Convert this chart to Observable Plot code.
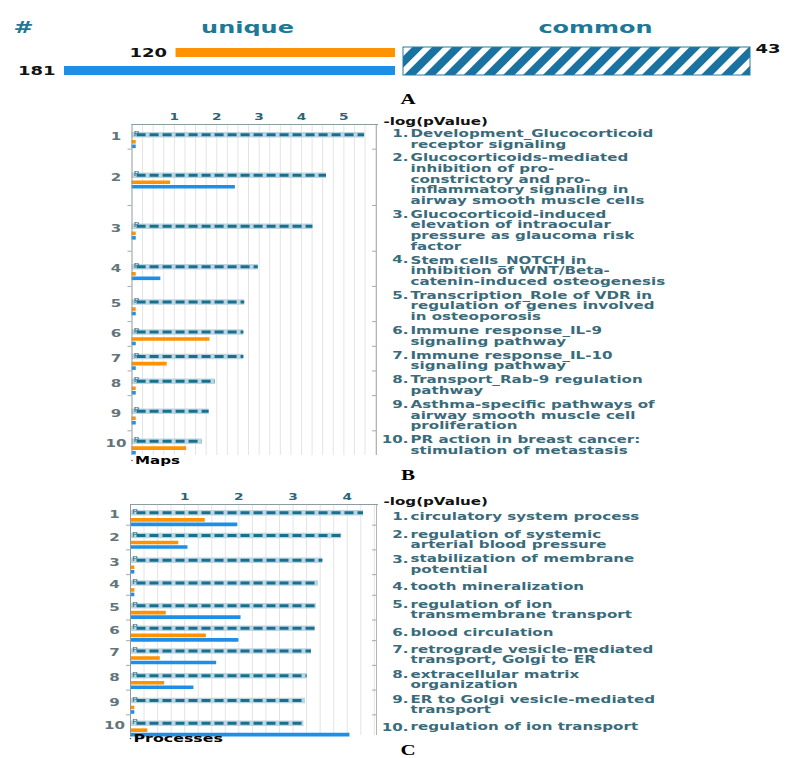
<!DOCTYPE html>
<html><head><meta charset="utf-8">
<script src="https://cdn.jsdelivr.net/npm/d3@7"></script>
<script src="https://cdn.jsdelivr.net/npm/@observablehq/plot@0.6"></script>
<style>
html,body{margin:0;padding:0;background:#fff;overflow:hidden}
#root{position:relative;width:786px;height:758px;font-family:"DejaVu Sans",sans-serif}
.pane{position:absolute;left:0}
.letter{position:absolute;font-family:"Liberation Serif",serif;font-weight:bold;font-size:14px;color:#000;transform:translate(-50%,-50%) scaleX(1.5);line-height:1}
</style></head><body><div id="root"></div>
<script>
// ---------------- DATA ----------------
// Panel A: counts
const uniqueSeries = ["list1", "list2"];
const uniqueCounts = [120, 181];
const commonCount = 43;

// Panel B: Maps
const mapsLabels = [
  "Development_Glucocorticoid\nreceptor signaling",
  "Glucocorticoids-mediated\ninhibition of pro-\nconstrictory and pro-\ninflammatory signaling in\nairway smooth muscle cells",
  "Glucocorticoid-induced\nelevation of intraocular\npressure as glaucoma risk\nfactor",
  "Stem cells_NOTCH in\ninhibition of WNT/Beta-\ncatenin-induced osteogenesis",
  "Transcription_Role of VDR in\nregulation of genes involved\nin osteoporosis",
  "Immune response_IL-9\nsignaling pathway",
  "Immune response_IL-10\nsignaling pathway",
  "Transport_Rab-9 regulation\npathway",
  "Asthma-specific pathways of\nairway smooth muscle cell\nproliferation",
  "PR action in breast cancer:\nstimulation of metastasis"
];
const mapsCommon = [5.49, 4.59, 4.27, 2.98, 2.66, 2.64, 2.64, 1.97, 1.82, 1.66];
const mapsOrange = [0.1, 0.91, 0.1, 0.1, 0.1, 1.84, 0.83, 0.1, 0.1, 1.29];
const mapsBlue   = [0.1, 2.44, 0.1, 0.68, 0.1, 0.1, 0.1, 0.1, 0.1, 0.1];
const mapsTicks  = [1, 2, 3, 4, 5];

// Panel C: Processes
const procLabels = [
  "circulatory system process",
  "regulation of systemic\narterial blood pressure",
  "stabilization of membrane\npotential",
  "tooth mineralization",
  "regulation of ion\ntransmembrane transport",
  "blood circulation",
  "retrograde vesicle-mediated\ntransport, Golgi to ER",
  "extracellular matrix\norganization",
  "ER to Golgi vesicle-mediated\ntransport",
  "regulation of ion transport"
];
const procCommon = [4.30, 3.90, 3.55, 3.47, 3.43, 3.41, 3.34, 3.26, 3.23, 3.20];
const procOrange = [1.38, 0.89, 0.08, 0.08, 0.66, 1.40, 0.55, 0.63, 0.08, 0.32];
const procBlue   = [1.98, 1.06, 0.08, 0.08, 2.04, 2.00, 1.59, 1.17, 0.08, 4.05];
const procTicks  = [1, 2, 3, 4];

// ---------------- STYLE ----------------
const ORANGE = "#ff9200", BLUE = "#1d8fe6", TEAL = "#1a72a0", TITLE = "#1e7898";
const LABEL = "#3a6b7a", FONT = "DejaVu Sans";

const root = document.getElementById("root");

// horizontally widen glyphs about each text's own anchor point
function stretch(svg, s) {
  svg.querySelectorAll("text").forEach(t => {
    const tr = t.getAttribute("transform") || "";
    const x = t.getAttribute("x");
    let pre = "";
    if (x != null && !/em$/.test(x) && parseFloat(x) !== 0) {
      pre = ` translate(${parseFloat(x)},0)`;
      t.removeAttribute("x");
    }
    t.setAttribute("transform", `${tr}${pre} scale(${s},1)`.trim());
  });
}
function place(node, top, left) {
  const d = document.createElement("div");
  d.className = "pane";
  d.style.top = top + "px";
  d.style.left = (left || 0) + "px";
  d.appendChild(node);
  root.appendChild(d);
}
function letter(ch, x, y) {
  const d = document.createElement("div");
  d.className = "letter";
  d.style.left = x + "px"; d.style.top = y + "px";
  d.textContent = ch;
  root.appendChild(d);
}
const titleStyle = {frameAnchor: "top-left", textAnchor: "middle", lineAnchor: "middle",
  fontSize: 16, fontWeight: "bold", fill: TITLE};

// ---------------- PANEL A ----------------
const uniqueData = uniqueSeries.map((s, i) => ({set: s, n: uniqueCounts[i]}));
const A1 = Plot.plot({
  width: 400, height: 95, margin: 0,
  x: {domain: [0, d3.max(uniqueCounts)], range: [395, 64], axis: null},
  y: {domain: uniqueSeries, range: [39, 84], padding: 0.5, axis: null},
  color: {domain: uniqueSeries, range: [ORANGE, BLUE]},
  style: {fontFamily: FONT, background: "transparent"},
  marks: [
    Plot.barX(uniqueData, {x: "n", y: "set", fill: "set"}),
    Plot.ruleX(uniqueData, {x: () => 0, y: "set", stroke: "#a0a0a0", insetTop: -4, insetBottom: -4}),
    Plot.text(uniqueData, {x: "n", y: "set", text: d => String(d.n), dx: -9, textAnchor: "end",
      fontWeight: "bold", fontSize: 12, fill: "#111"}),
    Plot.text(["#"], {...titleStyle, dx: 23, dy: 27}),
    Plot.text(["unique"], {...titleStyle, dx: 247, dy: 27})
  ]
});
stretch(A1, 1.5);
place(A1, 0, 0);

const commonData = [{set: "common", n: commonCount}];
const A2 = Plot.plot({
  width: 386, height: 95, margin: 0,
  x: {domain: [0, commonCount], range: [3, 350], axis: null},
  y: {domain: ["common"], range: [46.7, 74.7], padding: 0, axis: null},
  style: {fontFamily: FONT, background: "transparent"},
  marks: [
    Plot.barX(commonData, {x: "n", y: "set", fill: "url(#hatchA)", stroke: "#2a7aa0", strokeWidth: 1}),
    Plot.text(commonData, {x: "n", y: "set", text: d => String(d.n), dx: 5, dy: -12, textAnchor: "start",
      fontWeight: "bold", fontSize: 12, fill: "#111"}),
    Plot.text(["common"], {...titleStyle, dx: 195, dy: 27})
  ]
});
{
  const ns = "http://www.w3.org/2000/svg";
  const defs = document.createElementNS(ns, "defs");
  defs.innerHTML = `<pattern id="hatchA" patternUnits="userSpaceOnUse" width="14" height="14" patternTransform="rotate(45)">
     <rect width="14" height="14" fill="#ffffff"/><rect width="8" height="14" fill="${TEAL}"/></pattern>`;
  A2.insertBefore(defs, A2.firstChild);
}
stretch(A2, 1.5);
place(A2, 0, 400);
letter("A", 408, 100);

// ---------------- PANELS B & C ----------------
function hbarPanel(cfg) {
  const rows = cfg.labels.map((lab, i) => ({
    num: i + 1, body: lab, lines: lab.split("\n").length,
    common: cfg.common[i], orange: cfg.orange[i], blue: cfg.blue[i]
  }));
  let acc = 0; const bounds = [];
  rows.forEach(r => { r.units = r.lines + cfg.pad; r.center = acc + r.units / 2; acc += r.units; bounds.push(acc); });
  const total = acc; bounds.pop();
  const ppu = (cfg.y1 - cfg.y0) / total;
  rows.forEach(r => r.first = r.center - (r.lines - 1) / 2 * cfg.lineSpacing / ppu);
  const xMax = cfg.xMax;
  const ppx = (cfg.x1 - cfg.x0) / xMax;
  const tl = 4 / ppx;
  const fs = cfg.fontSize;
  const svg = Plot.plot({
    width: 786, height: cfg.height,
    marginLeft: cfg.x0, marginRight: 786 - cfg.x1, marginTop: cfg.y0, marginBottom: cfg.height - cfg.y1,
    x: {domain: [0, xMax], range: [cfg.x0, cfg.x1], axis: null},
    y: {domain: [0, total], range: [cfg.y0, cfg.y1], axis: null},
    style: {fontFamily: FONT, background: "transparent"},
    marks: [
      Plot.ruleX(d3.range(0.25, xMax, 0.25), {y1: 0, y2: total, stroke: "#e4e4e4", strokeWidth: 1}),
      // common (hatched) bars
      Plot.ruleY(rows, {y: "center", x1: 0, x2: "common", dy: -2, stroke: "#bcd5e0", strokeWidth: 5.5}),
      Plot.ruleY(rows, {y: "center", x1: 0.12, x2: "common", dy: -2, stroke: "#17708f", strokeWidth: 3,
        strokeDasharray: "9,4"}),
      Plot.text(rows, {x: 0, y: "center", text: () => "P", dx: 1.5, dy: -3, textAnchor: "start",
        fontSize: 6.5, fill: "#2f6f88"}),
      Plot.ruleY(rows, {y: "center", x1: 0, x2: "orange", dy: 5, stroke: ORANGE, strokeWidth: 3.6}),
      Plot.ruleY(rows, {y: "center", x1: 0, x2: "blue", dy: 9.5, stroke: BLUE, strokeWidth: 3.6}),
      // frame
      Plot.ruleX([0], {y1: 0, y2: total, stroke: "#8d9ca1"}),
      Plot.ruleX([xMax], {y1: 0, y2: total, stroke: "#b4b4b4"}),
      Plot.ruleY([0], {x1: 0, x2: xMax + tl / 2, stroke: "#8d9ca1"}),
      Plot.ruleY(bounds, {x1: -tl, x2: 0, stroke: "#a9a9a9"}),
      Plot.ruleY(bounds, {x1: xMax - tl, x2: xMax, stroke: "#a9a9a9"}),
      // tick labels
      Plot.text(cfg.ticks, {x: d => d, y: 0, dy: -8, fontSize: 9.5, fontWeight: "bold", fill: "#2b6579"}),
      Plot.text(["-log(pValue)"], {x: xMax, y: 0, dx: 7, dy: -2.5, textAnchor: "start", fontSize: 10.5,
        fontWeight: "bold", fill: "#111"}),
      // row numbers
      Plot.text(rows, {x: 0, y: "center", text: "num", dx: -16, fontSize: 10.5, fontWeight: "bold", fill: "#63757b"}),
      // right labels
      Plot.text(rows, {x: xMax, y: "first", text: d => d.num + ".", dx: 32, dy: 2, textAnchor: "end",
        fontSize: fs, fontWeight: "bold", fill: LABEL}),
      Plot.text(rows, {x: xMax, y: "center", text: "body", dx: 34, dy: 2, textAnchor: "start",
        lineAnchor: "middle", lineHeight: cfg.lineSpacing / fs, fontSize: fs, fontWeight: "bold", fill: LABEL}),
      // panel name
      Plot.text([cfg.name], {x: 0, y: total, dx: 3, dy: cfg.nameDy, textAnchor: "start", fontSize: cfg.nameSize,
        fontWeight: "bold", fill: "#000"}),
      Plot.dot([0], {x: d => d, y: total, dy: cfg.nameDy, r: 0.8, fill: "#555"})
    ]
  });
  stretch(svg, 1.44);
  return svg;
}

const B = hbarPanel({
  labels: mapsLabels, common: mapsCommon, orange: mapsOrange, blue: mapsBlue, ticks: mapsTicks,
  xMax: 5.77, x0: 131.5, x1: 376, y0: 29, y1: 360, height: 372,
  pad: 0.34, lineSpacing: 10.7, fontSize: 10.5, name: "Maps", nameSize: 10.5, nameDy: 5
});
place(B, 95, 0);
letter("B", 408, 476);

const C = hbarPanel({
  labels: procLabels, common: procCommon, orange: procOrange, blue: procBlue, ticks: procTicks,
  xMax: 4.54, x0: 130, x1: 376, y0: 34, y1: 265, height: 282,
  pad: 4.1, lineSpacing: 10.2, fontSize: 10.5, name: "Processes", nameSize: 11, nameDy: 3
});
place(C, 470, 0);
letter("C", 408, 751);
</script></body></html>
